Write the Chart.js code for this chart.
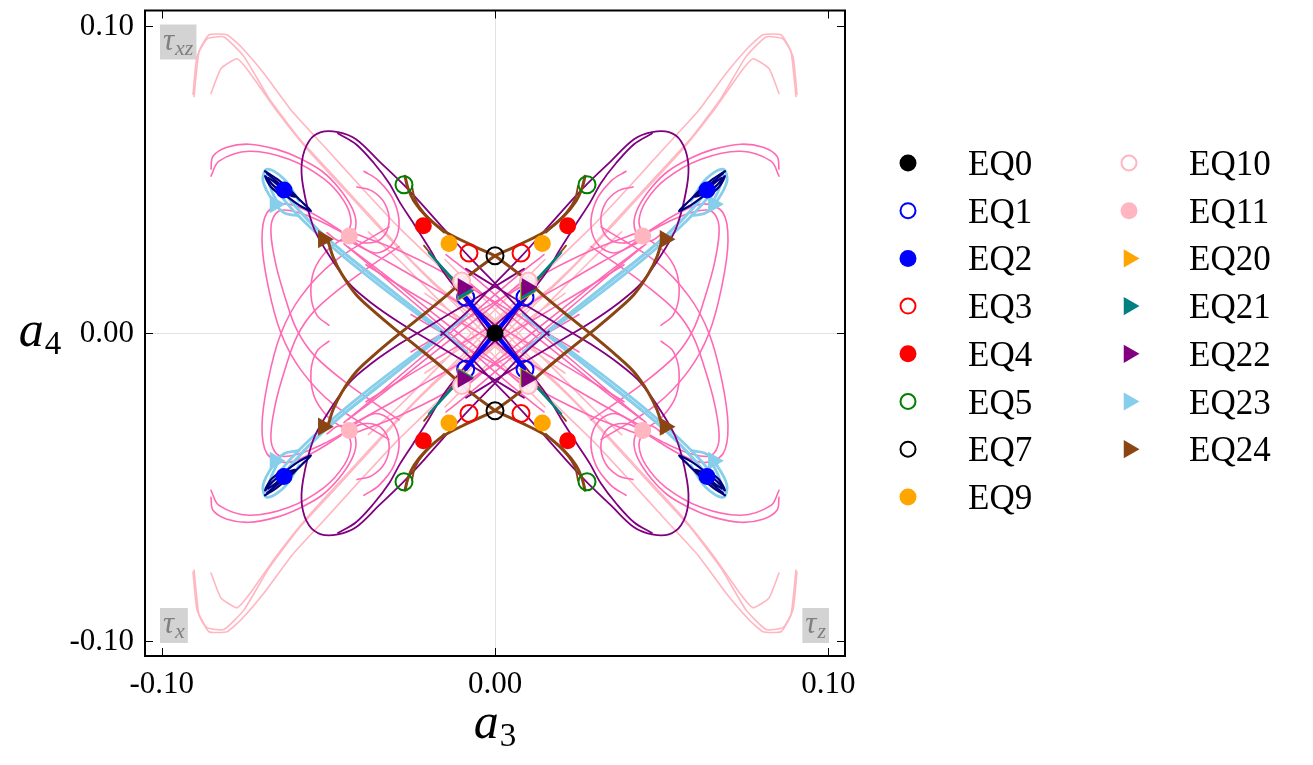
<!DOCTYPE html>
<html><head><meta charset="utf-8">
<script src="https://cdn.jsdelivr.net/npm/chart.js@4.4.1/dist/chart.umd.min.js"></script>
<style>html,body{margin:0;padding:0;background:#fff;overflow:hidden}canvas{display:block}</style>
</head><body>
<canvas id="c" width="1313" height="765" style="width:1313px;height:765px"></canvas>
<script>
// ---------- axis ticks ----------
const X_TICKS = [-0.10, 0.00, 0.10];
const Y_TICKS = [-0.10, 0.00, 0.10];
const X_TICK_LABELS = ['-0.10', '0.00', '0.10'];
const Y_TICK_LABELS = ['-0.10', '0.00', '0.10'];
const X_TITLE = ['a', '3'];
const Y_TITLE = ['a', '4'];
const CORNER_LABELS = [['τ', 'xz'], ['τ', 'x'], ['τ', 'z']];

// ---------- equilibria (a3, a4) ----------
const EQ_NAMES_COL1 = ['EQ0', 'EQ1', 'EQ2', 'EQ3', 'EQ4', 'EQ5', 'EQ7', 'EQ9'];
const EQ_NAMES_COL2 = ['EQ10', 'EQ11', 'EQ20', 'EQ21', 'EQ22', 'EQ23', 'EQ24'];
const EQ0 = [[0, 0]];
const EQ1 = [[0.0090, 0.0117], [-0.0088, 0.0117], [0.0090, -0.0117], [-0.0088, -0.0117]];
const EQ2 = [[0.0636, 0.0466], [-0.0633, 0.0466], [0.0636, -0.0466], [-0.0633, -0.0466]];
const EQ3 = [[0.0078, 0.0261], [-0.0078, 0.0261], [0.0078, -0.0261], [-0.0078, -0.0261]];
const EQ4 = [[0.0218, 0.0350], [-0.0215, 0.0350], [0.0218, -0.0350], [-0.0215, -0.0350]];
const EQ5 = [[0.0276, 0.0483], [-0.0273, 0.0483], [0.0276, -0.0483], [-0.0273, -0.0483]];
const EQ7 = [[0, 0.0252], [0, -0.0252]];
const EQ9 = [[0.0142, 0.0292], [-0.0138, 0.0292], [0.0142, -0.0292], [-0.0138, -0.0292]];
const EQ10 = [[0.0100, 0.0170], [-0.0100, 0.0170], [0.0100, -0.0170], [-0.0100, -0.0170]];
const EQ11 = [[0.0443, 0.0316], [-0.0437, 0.0316], [0.0443, -0.0316], [-0.0437, -0.0316]];
const EQ20 = [[0.0091, 0.0133], [-0.0097, 0.0133], [0.0091, -0.0141], [-0.0097, -0.0141]];
const EQ21 = [[0.0094, 0.0138], [-0.0094, 0.0138], [0.0094, -0.0145], [-0.0094, -0.0145]];
const EQ22 = [[0.0096, 0.0150], [-0.0096, 0.0150], [0.0096, -0.0148], [-0.0096, -0.0148]];
const EQ23 = [[0.0655, 0.0420], [-0.0660, 0.0420], [0.0655, -0.0415], [-0.0660, -0.0415]];
const EQ24 = [[0.0510, 0.0306], [-0.0515, 0.0306], [0.0510, -0.0304], [-0.0515, -0.0304]];
const EQ_POINTS = {EQ0, EQ1, EQ2, EQ3, EQ4, EQ5, EQ7, EQ9, EQ10, EQ11, EQ20, EQ21, EQ22, EQ23, EQ24};

// ---------- trajectories, upper-right quadrant as read (figure is symmetric in a3 -> -a3, a4 -> -a4) ----------
const PURPLE_A = [[-0.0162,-0.0006],[-0.0072,0.0081],[0,0.0162],[0.0078,0.0249],[0.0159,0.0346],[0.0228,0.0430],[0.0276,0.0485],[0.0348,0.0560],[0.0417,0.0631],[0.0471,0.0654],[0.0522,0.0654],[0.0558,0.0625],[0.0579,0.0560],[0.0576,0.0479],[0.0546,0.0349],[0.0507,0.0269],[0.0438,0.0162],[0.0369,0.0097],[0.0288,0.0036],[0.0198,-0.0023],[0.0099,-0.0087],[0,-0.0152],[-0.0087,-0.0210]];
const PURPLE_B = [[-0.0072,-0.0094],[0,-0.0023],[0.0078,0.0091],[0.0153,0.0197],[0.0198,0.0278],[0.0246,0.0360],[0.0285,0.0425],[0.0318,0.0489],[0.0363,0.0553],[0.0417,0.0615],[0.0471,0.0650]];
const BROWN_A = [[0,0.0252],[0.0078,0.0291],[0.0153,0.0333],[0.0207,0.0382],[0.0243,0.0430],[0.0261,0.0472],[0.0270,0.0511]];
const BROWN_A2 = [[0.0153,0.0327],[0.0213,0.0392],[0.0240,0.0437],[0.0249,0.0479]];
const BROWN_B = [[0,0.0252],[0.0078,0.0188],[0.0153,0.0116],[0.0228,0.0049],[0.0303,-0.0016],[0.0363,-0.0071],[0.0417,-0.0126],[0.0459,-0.0191],[0.0486,-0.0249],[0.0501,-0.0301]];
const BROWN_C = [[0.0018,0.0026],[0.0078,0.0107],[0.0138,0.0185],[0.0213,0.0285]];
const TEAL_A = [[0.0123,0.0172],[0.0198,0.0262]];
const BLUE_A = [[0,0],[0.0042,0.0055],[0.0087,0.0115]];
const NAVY_A = [[0.0690,0.0527],[0.0654,0.0502],[0.0618,0.0469],[0.0582,0.0430],[0.0552,0.0398],[0.0588,0.0417],[0.0630,0.0450],[0.0666,0.0482],[0.0690,0.0511],[0.0672,0.0476],[0.0636,0.0443]];
const NAVY_B = [[0.0684,0.0520],[0.0640,0.0480],[0.0600,0.0445],[0.0620,0.0452],[0.0660,0.0490],[0.0680,0.0505]];
const SKY_A = [[0.0084,-0.0061],[0.0150,0],[0.0243,0.0081],[0.0348,0.0172],[0.0453,0.0262],[0.0543,0.0349],[0.0612,0.0430],[0.0654,0.0489],[0.0684,0.0521],[0.0672,0.0469],[0.0648,0.0414]];
const SKY_B = [[0.0108,-0.0039],[0.0198,0.0042],[0.0312,0.0139],[0.0432,0.0243],[0.0522,0.0327],[0.0600,0.0414],[0.0648,0.0482],[0.0675,0.0515],[0.0660,0.0495],[0.0618,0.0443]];
const SKY_C = [[0.0588,0.0430],[0.0633,0.0502],[0.0684,0.0534],[0.0696,0.0495],[0.0666,0.0430],[0.0633,0.0392],[0.0588,0.0382]];
const SKY_D = [[0.0130,-0.0020],[0.0230,0.0060],[0.0340,0.0150],[0.0450,0.0245],[0.0540,0.0330],[0.0610,0.0405],[0.0660,0.0470]];
const LPINK_A = [[-0.0192,-0.0168],[-0.0072,-0.0071],[0.0030,0.0020],[0.0138,0.0120],[0.0245,0.0230],[0.0355,0.0359],[0.0470,0.0495],[0.0588,0.0634],[0.0678,0.0764],[0.0753,0.0900],[0.0813,0.0964],[0.0864,0.0958],[0.0894,0.0900],[0.0906,0.0777]];
const LPINK_B = [[-0.0132,-0.0152],[-0.0020,-0.0055],[0.0095,0.0068],[0.0210,0.0188],[0.0325,0.0317],[0.0440,0.0453],[0.0558,0.0592],[0.0654,0.0722],[0.0738,0.0851],[0.0774,0.0893],[0.0822,0.0861],[0.0852,0.0780]];
const LPINK_C = [[-0.0210,-0.0130],[-0.0080,-0.0030],[0.0050,0.0091],[0.0170,0.0220],[0.0290,0.0346],[0.0402,0.0476],[0.0510,0.0605],[0.0609,0.0722],[0.0693,0.0845],[0.0762,0.0932],[0.0804,0.0971],[0.0858,0.0971],[0.0888,0.0916],[0.0903,0.0770]];
const LPINK_D = [[-0.0150,-0.0240],[-0.0040,-0.0120],[0.0070,0.0000],[0.0180,0.0120],[0.0290,0.0240],[0.0380,0.0330]];
const HPINK_ARC_A = [[0.0852,0.0534],[0.0846,0.0576],[0.0804,0.0605],[0.0738,0.0615],[0.0657,0.0599],[0.0588,0.0570],[0.0519,0.0527],[0.0468,0.0472],[0.0429,0.0408],[0.0417,0.0356],[0.0432,0.0314],[0.0468,0.0301],[0.0504,0.0327]];
const HPINK_ARC_B = [[0.0852,0.0511],[0.0828,0.0560],[0.0738,0.0592],[0.0618,0.0566],[0.0513,0.0502],[0.0453,0.0430],[0.0432,0.0366],[0.0444,0.0317]];
const HPINK_LOOP_A = [[0.0288,-0.0282],[0.0438,-0.0168],[0.0543,-0.0071],[0.0594,0.0010],[0.0627,0.0107],[0.0660,0.0236],[0.0672,0.0349],[0.0648,0.0398],[0.0588,0.0392],[0.0513,0.0359],[0.0453,0.0324]];
const HPINK_LOOP_B = [[0.0318,-0.0346],[0.0483,-0.0233],[0.0582,-0.0120],[0.0642,0],[0.0681,0.0155],[0.0699,0.0301],[0.0684,0.0392],[0.0627,0.0421],[0.0552,0.0392],[0.0462,0.0333]];
const HPINK_LAT_A = [[0.0438,0.0301],[0.0318,0.0230],[0.0198,0.0155],[0.0078,0.0081],[-0.0042,0.0003],[-0.0162,-0.0074],[-0.0282,-0.0152],[-0.0387,-0.0223]];
const HPINK_LAT_B = [[0.0453,0.0291],[0.0363,0.0210],[0.0258,0.0113],[0.0153,0.0016],[0.0048,-0.0081],[-0.0057,-0.0178],[-0.0147,-0.0256]];
const HPINK_LAT_C = [[0.0426,0.0327],[0.0288,0.0269],[0.0153,0.0197],[0.0018,0.0113],[-0.0117,0.0026],[-0.0252,-0.0061]];
const HPINK_LAT_D = [[0.0440,0.0280],[0.0330,0.0190],[0.0220,0.0095],[0.0110,0.0000],[0.0000,-0.0095],[-0.0100,-0.0185]];
const HPINK_SPIRAL_A = [[0.0444,0.0317],[0.0393,0.0294],[0.0342,0.0307],[0.0318,0.0359],[0.0330,0.0421],[0.0369,0.0463],[0.0414,0.0476]];
const HPINK_SPIRAL_B = [[0.0444,0.0314],[0.0363,0.0262],[0.0312,0.0285],[0.0288,0.0349],[0.0303,0.0430],[0.0348,0.0495],[0.0393,0.0527]];
const HPINK_SPIRAL_C = [[0.0453,0.0311],[0.0504,0.0269],[0.0543,0.0204],[0.0552,0.0123],[0.0534,0.0058],[0.0498,0.0026]];

// ---------- styles ----------
const EQ_STYLE = {
  EQ0:{c:'#000000',f:true,t:false}, EQ1:{c:'#0000FF',f:false,t:false}, EQ2:{c:'#0000FF',f:true,t:false},
  EQ3:{c:'#FF0000',f:false,t:false}, EQ4:{c:'#FF0000',f:true,t:false}, EQ5:{c:'#008000',f:false,t:false},
  EQ7:{c:'#000000',f:false,t:false}, EQ9:{c:'#FFA500',f:true,t:false}, EQ10:{c:'#FFB6C1',f:false,t:false},
  EQ11:{c:'#FFB6C1',f:true,t:false}, EQ20:{c:'#FFA500',f:true,t:true}, EQ21:{c:'#008080',f:true,t:true},
  EQ22:{c:'#800080',f:true,t:true}, EQ23:{c:'#87CEEB',f:true,t:true}, EQ24:{c:'#8B4513',f:true,t:true}
};
const EQ_LAYER = {EQ0:-30, EQ22:-29, EQ21:-28, EQ20:-27, EQ10:-26, EQ1:-25};
const SERIF = '"Liberation Serif","Times New Roman","DejaVu Serif",serif';

function mirrors(q) {
  return [[1,1],[-1,1],[1,-1],[-1,-1]].map(([sx,sy]) => q.map(([x,y]) => ({x: sx*x, y: sy*y})));
}
function trail(q, color, width, order, tension) {
  return mirrors(q).map(pts => ({
    data: pts, showLine: true, borderColor: color, borderWidth: width, pointRadius: 0,
    pointHoverRadius: 0, pointHitRadius: 0, tension: tension === undefined ? 0.35 : tension,
    order: order, fill: false, borderCapStyle: 'round', borderJoinStyle: 'round'
  }));
}
function eqDataset(name) {
  const s = EQ_STYLE[name];
  return {
    label: name, data: EQ_POINTS[name].map(([x,y]) => ({x, y})), showLine: false,
    pointStyle: s.t ? 'triangle' : 'circle', pointRotation: s.t ? 90 : 0,
    pointRadius: s.t ? 10.5 : 8.5, pointHoverRadius: s.t ? 10.5 : 8.5,
    pointBackgroundColor: s.f ? s.c : (name === 'EQ10' ? 'rgba(255,238,242,0.95)' : 'rgba(0,0,0,0)'),
    pointBorderColor: s.c, pointBorderWidth: s.f ? 0 : 2,
    order: EQ_LAYER[name] !== undefined ? EQ_LAYER[name] : -10
  };
}

const datasets = [];
EQ_NAMES_COL1.concat(EQ_NAMES_COL2).forEach(n => datasets.push(eqDataset(n)));
const LP = '#FFB6C1', HP = '#FF69B4';
[LPINK_A, LPINK_B, LPINK_C, LPINK_D].forEach(q => datasets.push(...trail(q, LP, 1.6, 9, 0.15)));
[HPINK_ARC_A, HPINK_ARC_B, HPINK_LOOP_A, HPINK_LOOP_B, HPINK_LAT_A, HPINK_LAT_B, HPINK_LAT_C, HPINK_LAT_D,
 HPINK_SPIRAL_A, HPINK_SPIRAL_B, HPINK_SPIRAL_C].forEach(q => datasets.push(...trail(q, HP, 1.6, 8)));
[SKY_A, SKY_B, SKY_C, SKY_D].forEach(q => datasets.push(...trail(q, '#87CEEB', 2.8, 7)));
[PURPLE_A, PURPLE_B].forEach(q => datasets.push(...trail(q, '#800080', 1.8, 6)));
[NAVY_A, NAVY_B].forEach(q => datasets.push(...trail(q, '#000080', 2.2, 5, 0.3)));
[BROWN_A, BROWN_B].forEach(q => datasets.push(...trail(q, '#8B4513', 3, 4)));
[BROWN_A2, BROWN_C].forEach(q => datasets.push(...trail(q, '#8B4513', 1.8, 4)));
datasets.push(...trail(TEAL_A, '#008080', 2.5, 3));
datasets.push(...trail(BLUE_A, '#0000FF', 4.5, 2, 0));

function drawMarker(ctx, s, x, y) {
  ctx.save();
  ctx.beginPath();
  if (s.t) {
    const r = 10.5;
    for (let k = 0; k < 3; k++) {
      const a = Math.PI/2 + k*2*Math.PI/3;
      const px = x + Math.sin(a)*r, py = y - Math.cos(a)*r;
      k ? ctx.lineTo(px, py) : ctx.moveTo(px, py);
    }
    ctx.closePath();
    ctx.fillStyle = s.c; ctx.fill();
  } else {
    ctx.arc(x, y, s.f ? 8.5 : 7.5, 0, Math.PI*2);
    if (s.f) { ctx.fillStyle = s.c; ctx.fill(); }
    else { ctx.strokeStyle = s.c; ctx.lineWidth = 2; ctx.stroke(); }
  }
  ctx.restore();
}

function subText(ctx, main, sub, x, y, mainFont, subFont, subDrop, align) {
  ctx.font = mainFont; const w1 = ctx.measureText(main).width;
  ctx.font = subFont; const w2 = ctx.measureText(sub).width;
  let x0 = x;
  if (align === 'center') x0 = x - (w1 + w2 + 1)/2;
  ctx.textAlign = 'left'; ctx.textBaseline = 'alphabetic';
  ctx.font = mainFont; ctx.fillText(main, x0, y);
  ctx.font = subFont; ctx.fillText(sub, x0 + w1 + 1, y + subDrop);
  return w1 + w2 + 1;
}

const deco = {
  id: 'deco',
  afterDatasetsDraw(chart) {
    const {ctx, chartArea: a, scales: {x, y}} = chart;
    ctx.save();
    // corner labels
    const boxes = [
      {lab: CORNER_LABELS[0], x: a.left + 15, y: a.top + 14, right: false},
      {lab: CORNER_LABELS[1], x: a.left + 15, y: a.bottom - 48, right: false},
      {lab: CORNER_LABELS[2], x: a.right - 16, y: a.bottom - 48, right: true}
    ];
    boxes.forEach(b => {
      const mf = 'italic 31px ' + SERIF, sf = 'italic 22px ' + SERIF;
      ctx.font = mf; const w1 = ctx.measureText(b.lab[0]).width;
      ctx.font = sf; const w2 = ctx.measureText(b.lab[1]).width;
      const bw = w1 + w2 + 7, bh = 35;
      const bx = b.right ? b.x - bw : b.x;
      ctx.fillStyle = '#d3d3d3';
      ctx.fillRect(bx, b.y, bw, bh);
      ctx.fillStyle = '#808080';
      subText(ctx, b.lab[0], b.lab[1], bx + 3, b.y + 25, mf, sf, 5, 'left');
    });
    // frame
    ctx.strokeStyle = '#000'; ctx.lineWidth = 2;
    ctx.strokeRect(a.left, a.top, a.right - a.left, a.bottom - a.top);
    ctx.lineWidth = 1;
    ctx.beginPath();
    X_TICKS.forEach(v => {
      const px = Math.round(x.getPixelForValue(v)) + 0.5;
      ctx.moveTo(px, a.bottom); ctx.lineTo(px, a.bottom - 8);
      ctx.moveTo(px, a.top); ctx.lineTo(px, a.top + 8);
    });
    Y_TICKS.forEach(v => {
      const py = Math.round(y.getPixelForValue(v)) + 0.5;
      ctx.moveTo(a.left, py); ctx.lineTo(a.left + 8, py);
      ctx.moveTo(a.right, py); ctx.lineTo(a.right - 8, py);
    });
    ctx.stroke();
    // tick labels
    ctx.fillStyle = '#000';
    ctx.font = '31px ' + SERIF;
    ctx.textAlign = 'center'; ctx.textBaseline = 'middle';
    X_TICKS.forEach((v, i) => ctx.fillText(X_TICK_LABELS[i], x.getPixelForValue(v), a.bottom + 29));
    ctx.textAlign = 'right';
    Y_TICKS.forEach((v, i) => ctx.fillText(Y_TICK_LABELS[i], a.left - 11, y.getPixelForValue(v) + 1));
    // axis titles
    const tf = 'italic 50px ' + SERIF, sf2 = '33px ' + SERIF;
    subText(ctx, X_TITLE[0], X_TITLE[1], (a.left + a.right)/2, 738, tf, sf2, 8, 'center');
    subText(ctx, Y_TITLE[0], Y_TITLE[1], 40, (a.top + a.bottom)/2 + 13, tf, sf2, 8, 'center');
    // legend
    const cols = [[EQ_NAMES_COL1, 908, 968], [EQ_NAMES_COL2, 1129, 1189]];
    ctx.textAlign = 'left'; ctx.textBaseline = 'alphabetic';
    cols.forEach(([names, mx, tx]) => {
      names.forEach((n, i) => {
        const cy = 163 + i*47.7;
        drawMarker(ctx, EQ_STYLE[n], mx, cy);
        ctx.fillStyle = '#000';
        ctx.font = '35px ' + SERIF;
        ctx.fillText(n, tx, cy + 12);
      });
    });
    ctx.restore();
  }
};

new Chart(document.getElementById('c'), {
  type: 'scatter',
  data: { datasets },
  options: {
    responsive: false, animation: false, devicePixelRatio: 1, events: [],
    layout: { padding: { left: 0, right: 468, top: 9, bottom: 0 } },
    plugins: { legend: { display: false }, tooltip: { enabled: false } },
    scales: {
      x: {
        type: 'linear', min: -0.105, max: 0.105,
        afterBuildTicks: s => { s.ticks = X_TICKS.map(v => ({value: v})); },
        afterFit: s => { s.height = 109; },
        ticks: { display: false },
        border: { display: false },
        grid: { drawTicks: false, lineWidth: 1, color: c => (c.tick && c.tick.value === 0) ? '#e3e3e3' : 'rgba(0,0,0,0)' }
      },
      y: {
        type: 'linear', min: -0.105, max: 0.105,
        afterBuildTicks: s => { s.ticks = Y_TICKS.map(v => ({value: v})); },
        afterFit: s => { s.width = 145; },
        ticks: { display: false },
        border: { display: false },
        grid: { drawTicks: false, lineWidth: 1, color: c => (c.tick && c.tick.value === 0) ? '#e3e3e3' : 'rgba(0,0,0,0)' }
      }
    }
  },
  plugins: [deco]
});
</script>
</body></html>
